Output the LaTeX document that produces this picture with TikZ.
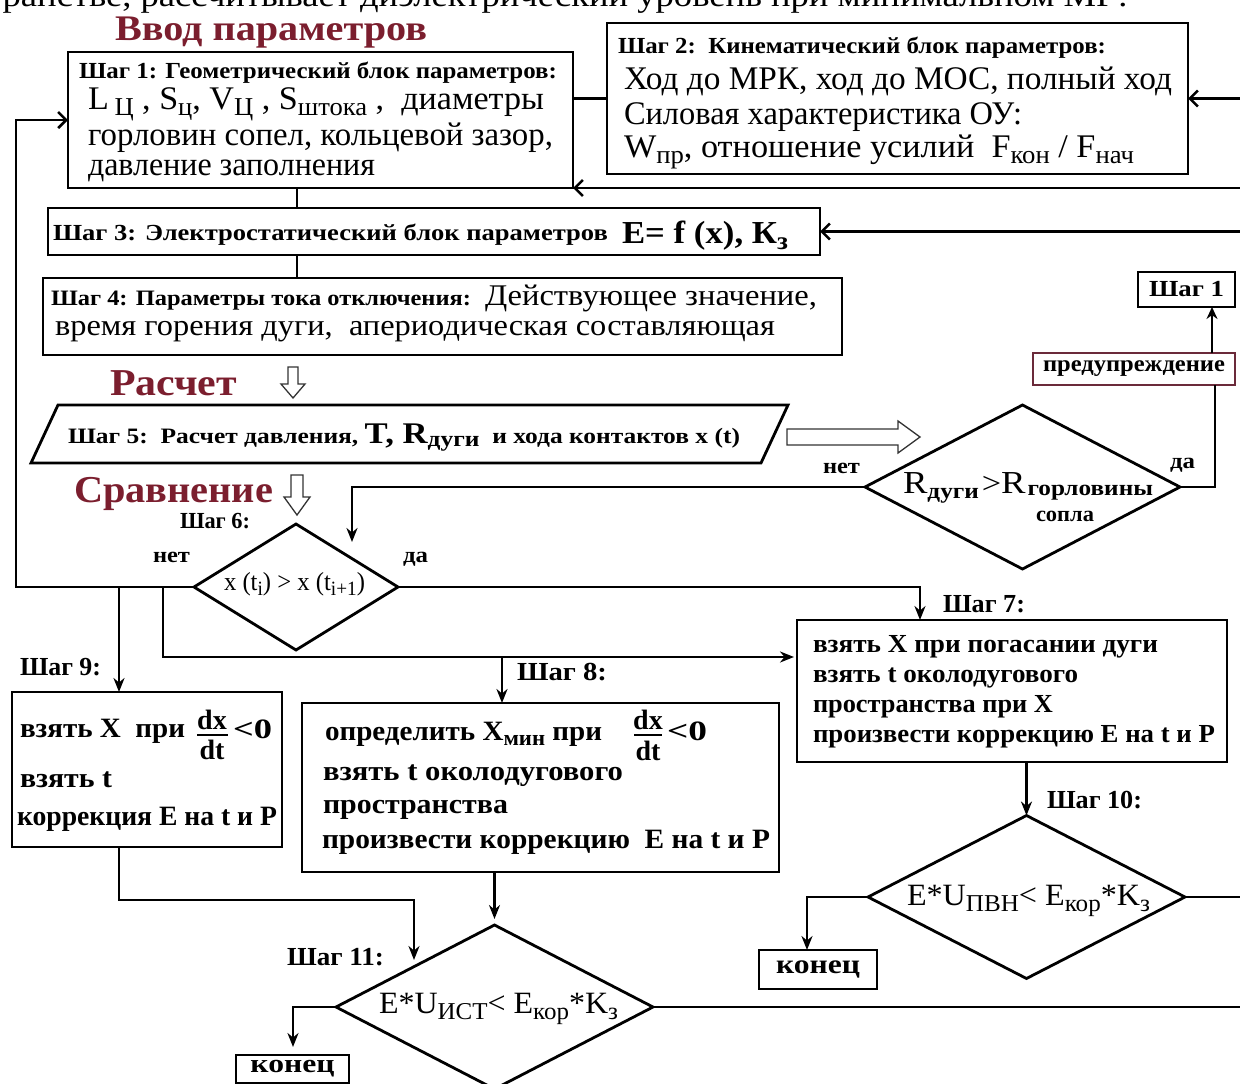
\documentclass[tikz,border=0pt]{standalone}
\usepackage{fontspec}
\setmainfont{Liberation Serif}
\usepackage{graphicx}
\usetikzlibrary{shapes.geometric,arrows.meta}
\definecolor{hd}{HTML}{7B1E2E}
\definecolor{warnc}{HTML}{6B2A3A}
\newcommand{\fw}[2]{\resizebox{#1pt}{\height}{#2}}
\newcommand{\mysub}[1]{\raisebox{-0.2em}{\scalebox{0.78}{#1}}}
\newcommand{\fsz}[1]{\fontsize{#1}{#1}\selectfont}
\begin{document}
\begin{tikzpicture}[x=1pt,y=-1pt,
  box/.style={draw, rectangle, line width=2.8pt, inner sep=0pt, outer sep=0pt, anchor=north west},
  dia/.style={draw, diamond, line width=2.8pt, inner sep=0pt, outer sep=0pt},
  txt/.style={inner sep=0pt, outer sep=0pt, anchor=base west},
  conn/.style={line width=2.6pt},
  arr/.style={conn, -{Stealth[length=14pt,width=11pt]}},
  barb/.style={conn, -{Straight Barb[length=8pt,width=16pt]}},
  hollow/.style={draw=black!80, line width=1.3pt, fill=white}]
\useasboundingbox (0,0) rectangle (1240,1084);
\fill[white] (0,0) rectangle (1240,1084);
\clip (0,0) rectangle (1240,1084);

% cut-off line at the top
\node[txt, anchor=base east] (topl) at (1128,6) {\fw{1215}{\fsz{32}пространстве, рассчитывает диэлектрический уровень при минимальном МР:}};

% headings
\node[txt] (hvod) at (115,40) {\fw{312}{\color{hd}\bfseries\fsz{36}Ввод параметров}};
\node[txt] (hras) at (110,395) {\fw{127}{\color{hd}\bfseries\fsz{38}Расчет}};
\node[txt] (hsr) at (74,502) {\fw{199}{\color{hd}\bfseries\fsz{38}Сравнение}};

% boxes
\node[box, minimum width=505pt, minimum height=136pt] (b1) at (68,52) {};
\node[box, minimum width=581pt, minimum height=151pt] (b2) at (607,23) {};
\node[box, minimum width=772pt, minimum height=47pt] (b3) at (48,208) {};
\node[box, minimum width=799pt, minimum height=77pt] (b4) at (43,278) {};
\node[box, minimum width=97pt, minimum height=35pt] (s1) at (1138,272) {\fw{75}{\bfseries\fsz{23}Шаг 1}};
\node[box, draw=warnc, line width=2.2pt, minimum width=202pt, minimum height=32pt] (warn) at (1033,353) {\fw{182}{\bfseries\fsz{23}предупреждение}};
\node[box, minimum width=430pt, minimum height=142pt] (b7) at (797,620) {};
\node[box, minimum width=270pt, minimum height=155pt] (b9) at (12,692) {};
\node[box, minimum width=477pt, minimum height=169pt] (b8) at (302,703) {};
\node[box, minimum width=118pt, minimum height=39pt] (end1) at (759,950) {\fw{84}{\bfseries\fsz{27}конец}};
\node[box, minimum width=113pt, minimum height=28pt] (end2) at (236,1055) {\fw{84}{\bfseries\fsz{26}конец}};

% diamonds
\node[dia, minimum width=315pt, minimum height=164pt] (dR) at (1022.5,487) {};
\node[dia, minimum width=204pt, minimum height=126pt] (d6) at (296,587) {};
\node[dia, minimum width=317pt, minimum height=163pt] (d10) at (1026.5,897) {};
\node[dia, minimum width=317pt, minimum height=164pt] (d11) at (494.5,1007) {};

% step 5 parallelogram
\draw[line width=2.8pt] (58,405) -- (788,405) -- (761,463) -- (31,463) -- cycle;

% hollow arrows
\draw[hollow] (288,367) -- (298,367) -- (298,384) -- (305,384) -- (293,398) -- (281,384) -- (288,384) -- cycle;
\draw[hollow] (291,475) -- (303,475) -- (303,497) -- (310,497) -- (297,515) -- (284,497) -- (291,497) -- cycle;
\draw[hollow] (787,429) -- (898,429) -- (898,421) -- (920,437) -- (898,453) -- (898,445) -- (787,445) -- cycle;

% texts box 1
\node[txt] (t1a) at (79,78) {\fw{478}{\bfseries\fsz{23}Шаг 1: Геометрический блок параметров:}};
\node[txt] (t1b) at (88,109) {\fw{456}{\fsz{33}L\,\mysub{Ц} , S\mysub{ц}, V\mysub{Ц} , S\mysub{штока} ,\ \ диаметры}};
\node[txt] (t1c) at (88,145) {\fw{465}{\fsz{33}горловин сопел, кольцевой зазор,}};
\node[txt] (t1d) at (88,175) {\fw{287}{\fsz{33}давление заполнения}};
% box 2
\node[txt] (t2a) at (618,53) {\fw{488}{\bfseries\fsz{23}Шаг 2:\ \ Кинематический блок параметров:}};
\node[txt] (t2b) at (624,89) {\fw{548}{\fsz{33}Ход до МРК, ход до МОС, полный ход}};
\node[txt] (t2c) at (624,124) {\fw{398}{\fsz{33}Силовая характеристика ОУ:}};
\node[txt] (t2d) at (624,157) {\fw{510}{\fsz{33}W\mysub{пр}, отношение усилий\ \ F\mysub{кон} / F\mysub{нач}}};
% box 3
\node[txt] (t3a) at (53,240) {\fw{555}{\bfseries\fsz{23}Шаг 3: Электростатический блок параметров}};
\node[txt] (t3b) at (622,243) {\fw{166}{\bfseries\fsz{32}E= f (x), К\mysub{з}}};
% box 4
\node[txt] (t4a) at (51,305) {\fw{420}{\bfseries\fsz{22}Шаг 4: Параметры тока отключения:}};
\node[txt] (t4b) at (485,305) {\fw{332}{\fsz{30}Действующее значение,}};
\node[txt] (t4c) at (55,335) {\fw{720}{\fsz{30}время горения дуги,\ \ апериодическая составляющая}};
% step 5
\node[txt] (t5) at (68,443) {\fw{672}{\bfseries\fsz{22}Шаг 5:\ \ Расчет давления, {\fsz{30}T, R}\raisebox{-3pt}{дуги}\ \ и хода контактов x (t)}};
% diamond R
\node[txt] (tR) at (903,493) {\fw{250}{{\fsz{32}R}\raisebox{-5pt}{\bfseries\fsz{22}дуги} {\fsz{30}>}{\fsz{32}R}\,\raisebox{-2pt}{\bfseries\fsz{22}горловины}}};
\node[txt, anchor=base] (tRs) at (1065,521) {\fw{58}{\bfseries\fsz{22}сопла}};
\node[txt] (nR) at (823,473) {\fw{37}{\bfseries\fsz{22}нет}};
\node[txt] (yR) at (1170,468) {\fw{25}{\bfseries\fsz{22}да}};
% diamond 6
\node[txt] (l6) at (180,528) {\fw{70}{\bfseries\fsz{23}Шаг 6:}};
\node[txt] (n6) at (153,562) {\fw{37}{\bfseries\fsz{22}нет}};
\node[txt] (y6) at (403,562) {\fw{25}{\bfseries\fsz{22}да}};
\node[txt] (t6) at (224,590) {\fw{141}{\fsz{26}x (t\mysub{i}) > x (t\mysub{i+1})}};
% step labels
\node[txt] (l7) at (943,612) {\fw{82}{\bfseries\fsz{26}Шаг 7:}};
\node[txt] (l8) at (517,680) {\fw{90}{\bfseries\fsz{26}Шаг 8:}};
\node[txt] (l9) at (20,675) {\fw{81}{\bfseries\fsz{26}Шаг 9:}};
\node[txt] (l10) at (1047,808) {\fw{95}{\bfseries\fsz{26}Шаг 10:}};
\node[txt] (l11) at (287,965) {\fw{97}{\bfseries\fsz{26}Шаг 11:}};
% box 7
\node[txt] (t7a) at (813,652) {\fw{345}{\bfseries\fsz{26}взять X при погасании дуги}};
\node[txt] (t7b) at (813,682) {\fw{265}{\bfseries\fsz{26}взять t околодугового}};
\node[txt] (t7c) at (813,712) {\fw{240}{\bfseries\fsz{26}пространства при X}};
\node[txt] (t7d) at (813,742) {\fw{402}{\bfseries\fsz{26}произвести коррекцию E на t и P}};
% box 9
\node[txt] (t9a) at (20,737) {\fw{165}{\bfseries\fsz{28}взять X\ \ при}};
\node[txt, anchor=base] (t9n) at (212,729) {\bfseries\fsz{28}dx};
\draw[line width=1.8pt] (197,735) -- (228,735);
\node[txt, anchor=base] (t9d) at (212,759) {\bfseries\fsz{28}dt};
\node[txt] (t9c) at (233,738) {\fw{39}{\bfseries\fsz{28}<0}};
\node[txt] (t9e) at (20,787) {\fw{92}{\bfseries\fsz{28}взять t}};
\node[txt] (t9f) at (17,825) {\fw{260}{\bfseries\fsz{28}коррекция E на t и P}};
% box 8
\node[txt] (t8a) at (325,740) {\fw{277}{\bfseries\fsz{28}определить X\mysub{мин} при}};
\node[txt, anchor=base] (t8n) at (648,729) {\bfseries\fsz{28}dx};
\draw[line width=1.8pt] (634,735) -- (662,735);
\node[txt, anchor=base] (t8d) at (648,760) {\bfseries\fsz{28}dt};
\node[txt] (t8c) at (667,740) {\fw{40}{\bfseries\fsz{28}<0}};
\node[txt] (t8e) at (323,780) {\fw{300}{\bfseries\fsz{28}взять t околодугового}};
\node[txt] (t8f) at (323,813) {\fw{185}{\bfseries\fsz{28}пространства}};
\node[txt] (t8g) at (322,848) {\fw{448}{\bfseries\fsz{28}произвести коррекцию\ \ E на t и P}};
% diamonds 10, 11
\node[txt] (t10) at (907,905) {\fw{243}{\fsz{31}E*U\mysub{ПВН}< E\mysub{кор}*K\mysub{з}}};
\node[txt] (t11) at (379,1013) {\fw{239}{\fsz{31}E*U\mysub{ИСТ}< E\mysub{кор}*K\mysub{з}}};

% coordinates
\coordinate (rA) at (1240,98.5);
\coordinate (rB) at (1240,188);
\coordinate (rC) at (1240,231.5);
\coordinate (cx) at (297,0);
\coordinate (wr) at (1215,0);
\coordinate (wu) at (1212,0);
\coordinate (a6) at (352,542);
\coordinate (L1) at (16,587);
\coordinate (c7) at (920,0);
\coordinate (j9) at (119,587);
\coordinate (j8) at (163,587);
\coordinate (j78) at (163,657);
\coordinate (j8b) at (502,657);
\coordinate (e10) at (807,0);
\coordinate (rD) at (1240,897);
\coordinate (k9) at (119,900);
\coordinate (k9b) at (414,900);
\coordinate (k9c) at (414,960);
\coordinate (e11) at (293,0);
\coordinate (rE) at (1240,1007);

% connectors
\draw[conn] (b2.west) -- (b2.west -| b1.east);
\draw[barb] (rA) -- (b2.east);
\draw[barb] (rB) -- (rB -| b1.east);
\draw[conn] (cx |- b1.south) -- (cx |- b3.north);
\draw[conn] (cx |- b3.south) -- (cx |- b4.north);
\draw[barb] (rC) -- (b3.east);
\draw[conn] (dR.east) -| (wr |- warn.south);
\draw[conn, -{Stealth[length=12pt,width=11pt]}] (wu |- warn.north) -- (wu |- s1.south);
\draw[arr] (dR.west) -| (a6);
\draw[barb] (d6.west) -- (L1) |- (b1.west);
\draw[arr] (d6.east) -| (c7 |- b7.north);
\draw[arr] (j9) -- (j9 |- b9.north);
\draw[arr, shorten >=3pt] (j8) -- (j78) -- (j78 -| b7.west);
\draw[arr] (j8b) -- (j8b |- b8.north);
\draw[arr] (b7.south -| d10.north) -- (d10.north);
\draw[arr] (d10.west) -| (e10 |- end1.north);
\draw[conn] (d10.east) -- (rD);
\draw[arr] (k9 |- b9.south) -- (k9) -- (k9b) -- (k9c);
\draw[arr, shorten >=6pt] (b8.south -| d11.north) -- (d11.north);
\draw[arr, shorten >=8pt] (d11.west) -| (e11 |- end2.north);
\draw[conn] (d11.east) -- (rE);
\end{tikzpicture}
\end{document}
